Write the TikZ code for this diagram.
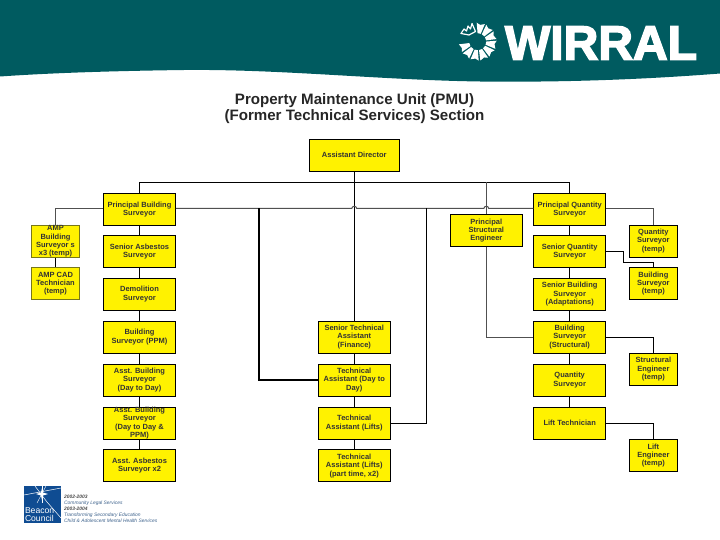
\documentclass[tikz,border=0pt]{standalone}
\usepackage{fontspec}
\setmainfont{Liberation Sans}
\newfontfamily\wirralfont[FakeBold=3.2]{Liberation Sans Bold}
\definecolor{teal0}{HTML}{005B60}
\definecolor{beacon}{HTML}{0F4C92}
\definecolor{linegray}{HTML}{505050}
\definecolor{olive0}{HTML}{77771A}
\tikzset{
  boxbase/.style={draw=black,line width=0.9pt,fill=yellow,align=center,inner sep=0pt,
    font=\bfseries\fontsize{7.5}{8.3}\selectfont,text=black!80},
  mainbox/.style={boxbase,minimum width=72pt,minimum height=32pt},
  tempbox/.style={boxbase,minimum width=48pt,minimum height=32pt},
  softbox/.style={tempbox,draw=olive0},
  link/.style={draw=black,line width=0.8pt},
  greylink/.style={draw=linegray,line width=1pt},
  heavylink/.style={draw=black,line width=1.15pt},
  petal/.style={fill=white,draw=none},
  smalltext/.style={anchor=west,inner sep=0pt,text=beacon!60!gray,font=\itshape\fontsize{4.9}{5}\selectfont}
}
\begin{document}
\begin{tikzpicture}[x=1pt,y=-1pt]
\useasboundingbox (0,0) rectangle (720,540);
% header
\fill[teal0] (0,0) -- (720,0) -- (720,73.5)
  .. controls (650,79) and (570,82.5) .. (480,81.5)
  .. controls (380,80) and (280,69) .. (184,70)
  .. controls (110,71) and (50,73) .. (0,76.5) -- cycle;
% sun logo
\foreach \a in {80,50,20,-10,-40,-70,-100,-130,-160}{
  \fill[petal] ({477.7+8.5*cos(\a-11)},{41.7-8.5*sin(\a-11)})
    -- ({477.7+19*cos(\a-12)},{41.7-19*sin(\a-12)})
    -- ({477.7+17*cos(\a+2)},{41.7-17*sin(\a+2)})
    -- ({477.7+19*cos(\a+13)},{41.7-19*sin(\a+13)})
    -- ({477.7+8.5*cos(\a+11)},{41.7-8.5*sin(\a+11)}) -- cycle;
}
\draw[white,line width=1.2pt,line join=round] (469,35) -- (461,33.5) -- (464,29) -- (466.5,31) -- (468,26) -- (470.5,29) -- (472,23.5) -- (475.5,31.5) -- cycle;
\node[inner sep=0pt,text=white] (wirral) at (601,43) {\resizebox{192pt}{33pt}{\wirralfont WIRRAL}};
% title
\node[inner sep=0pt,align=center,font=\bfseries\fontsize{15.1}{16}\selectfont,text=black!85] (title) at (354.5,108.5) {Property Maintenance Unit (PMU)\\(Former Technical Services) Section};
% boxes
\node[mainbox,minimum width=90.5pt] (ad) at (354.25,155.2) {Assistant Director};
\node[mainbox] (pbs) at (139.5,209.3) {Principal Building\\Surveyor};
\node[mainbox] (sas) at (139.5,251.8) {Senior Asbestos\\Surveyor};
\node[mainbox] (dem) at (139.5,294.2) {Demolition\\Surveyor};
\node[mainbox] (ppm) at (139.5,337) {Building\\Surveyor (PPM)};
\node[mainbox] (abd) at (139.5,380) {Asst. Building\\Surveyor\\(Day to Day)};
\node[mainbox] (abp) at (139.5,423) {Asst. Building\\Surveyor\\(Day to Day \&\\PPM)};
\node[mainbox] (aas) at (139.5,465.8) {Asst. Asbestos\\Surveyor x2};
\node[softbox] (amp) at (55.5,241.5) {AMP\\Building\\Surveyor s\\x3 (temp)};
\node[softbox] (cad) at (55.5,283.8) {AMP CAD\\Technician\\(temp)};
\node[mainbox] (sta) at (354.25,337) {Senior Technical\\Assistant\\(Finance)};
\node[mainbox] (tad) at (354.25,380) {Technical\\Assistant (Day to\\Day)};
\node[mainbox] (tal) at (354.25,423) {Technical\\Assistant (Lifts)};
\node[mainbox] (tap) at (354.25,465.8) {Technical\\Assistant (Lifts)\\(part time, x2)};
\node[mainbox] (pse) at (486.3,230.4) {Principal\\Structural\\Engineer};
\node[mainbox] (pqs) at (569.7,209.3) {Principal Quantity\\Surveyor};
\node[mainbox] (sqs) at (569.7,251.8) {Senior Quantity\\Surveyor};
\node[mainbox] (sbs) at (569.7,294.2) {Senior Building\\Surveyor\\(Adaptations)};
\node[mainbox] (bss) at (569.7,337) {Building\\Surveyor\\(Structural)};
\node[mainbox] (qs) at (569.7,380) {Quantity\\Surveyor};
\node[mainbox] (ltn) at (569.7,423) {Lift Technician};
\node[tempbox] (qst) at (653.4,241) {Quantity\\Surveyor\\(temp)};
\node[tempbox] (bst) at (653.4,283.7) {Building\\Surveyor\\(temp)};
\node[tempbox] (set) at (653.4,369.3) {Structural\\Engineer\\(temp)};
\node[tempbox] (let) at (653.4,455.4) {Lift\\Engineer\\(temp)};
% junction coordinates
\coordinate (topj) at (354.25,182.5);
\coordinate (h1l) at (351.75,208.5);
\coordinate (h1r) at (356.75,208.5);
\coordinate (h2l) at (483.8,208.5);
\coordinate (h2r) at (488.8,208.5);
\coordinate (hj) at (259,208.5);
\coordinate (hk) at (426.5,208.5);
\coordinate (kink) at (623.7,262.5);
% connectors
\draw[link] (ad.south) -- (topj);
\draw[link] (topj) -| (pbs.north);
\draw[link] (topj) -| (pqs.north);
\draw[link] (topj) -- (sta.north);
\draw[greylink] (pse.north |- topj) -- (pse.north);
\draw[greylink] (pbs.west |- h1l) -| (amp.north);
\draw[greylink] (pbs.east |- h1l) -- (h1l) .. controls +(0.5,-3) and +(-0.5,-3) .. (h1r) -- (h2l) .. controls +(0.5,-3) and +(-0.5,-3) .. (h2r) -- (pqs.west |- h2r);
\draw[greylink] (pqs.east |- h2r) -| (qst.north);
\draw[link] (amp) -- (cad);
\foreach \a/\b in {pbs/sas,sas/dem,dem/ppm,ppm/abd,abd/abp,abp/aas,sta/tad,tad/tal,tal/tap,pqs/sqs,sqs/sbs,sbs/bss,bss/qs,qs/ltn}{
  \draw[link] (\a) -- (\b);
}
\draw[heavylink] (hj) |- (tad.west);
\draw[link] (hk) |- (tal.east);
\draw[greylink] (pse.south) |- (bss.west);
\draw[link] (sqs.east |- 0,251.5) -| (kink) -| (bst.north);
\draw[link] (bss.east) -| (set.north);
\draw[link] (ltn.east) -| (let.north);
% Beacon logo
\fill[beacon] (24,486) rectangle (61,522.7);
\draw[white,line width=0.5pt] (24,495) -- (61,488);
\draw[white,line width=0.5pt] (35,486) -- (47,502) -- (61,518);
\draw[white,line width=0.4pt] (42,486) -- (42,503);
\draw[white,line width=0.4pt] (37,503) -- (46,486);
\fill[white] (42,488) -- (43,492.5) -- (48,494) -- (43,495.5) -- (42,500) -- (41,495.5) -- (36,494) -- (41,492.5) -- cycle;
\node[inner sep=0pt,anchor=west,align=left,text=white,font=\fontsize{8.6}{8}\selectfont] (beacontext) at (24.8,514.5) {Beacon\\Council};
\node[smalltext,font=\bfseries\itshape\fontsize{4.9}{5}\selectfont,text=black!70] (l1) at (64,497) {2002-2003};
\node[smalltext] (l2) at (64,503) {Community Legal Services};
\node[smalltext,font=\bfseries\itshape\fontsize{4.9}{5}\selectfont,text=black!70] (l3) at (64,509) {2003-2004};
\node[smalltext] (l4) at (64,515) {Transforming Secondary Education};
\node[smalltext] (l5) at (64,521) {Child \& Adolescent Mental Health Services};
\end{tikzpicture}
\end{document}
